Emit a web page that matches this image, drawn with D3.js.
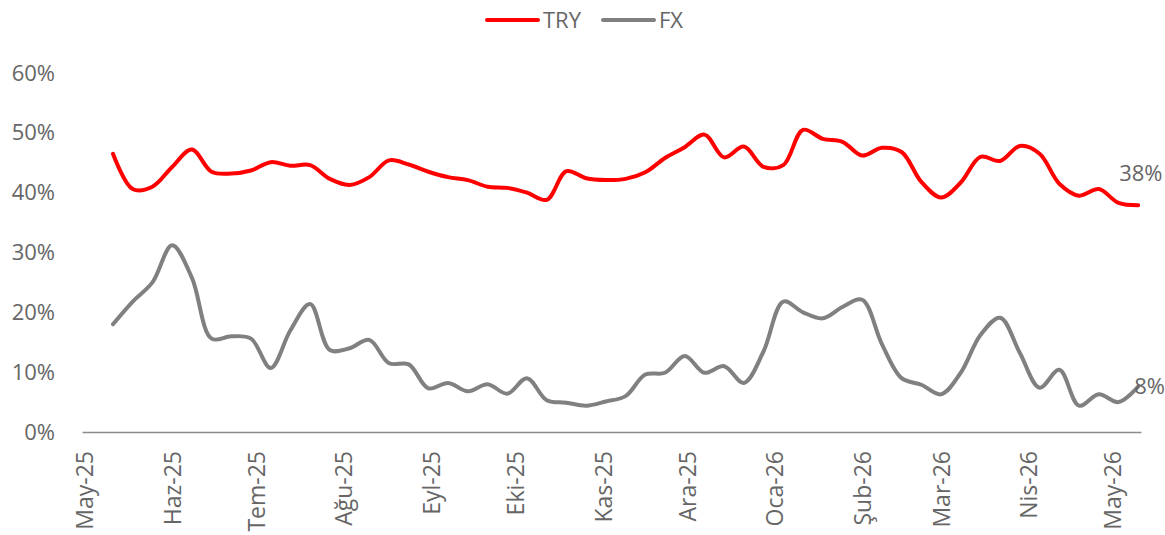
<!DOCTYPE html>
<html>
<head>
<meta charset="utf-8">
<script src="https://cdn.jsdelivr.net/npm/d3@7"></script>
<style>
  html, body { margin: 0; padding: 0; background: #fff; }
  svg { display: block; font-family: "Open Sans", sans-serif; }
</style>
</head>
<body>
<svg id="chart" width="1165" height="535"></svg>
<script>
// Weekly observations, first week starts 11 May 2025
const startDate = "2025-05-11";
const tryValues = [46.5, 40.6, 41.0, 44.3, 47.2, 43.5, 43.2, 43.7, 45.1, 44.5,
  44.6, 42.3, 41.3, 42.6, 45.4, 44.7, 43.5, 42.6, 42.1, 41.0,
  40.8, 40.0, 38.8, 43.6, 42.4, 42.1, 42.3, 43.4, 45.8, 47.6,
  49.7, 45.9, 47.7, 44.3, 44.6, 50.5, 49.0, 48.5, 46.2, 47.5,
  46.8, 41.8, 39.2, 41.7, 46.0, 45.3, 47.8, 46.5, 41.5, 39.5,
  40.6, 38.3, 37.9];
const fxValues = [18.0, 21.8, 25.0, 31.2, 25.8, 15.6, 16.0, 15.6, 10.7, 17.0,
  21.4, 13.7, 14.0, 15.4, 11.5, 11.3, 7.3, 8.2, 6.8, 8.0,
  6.4, 9.0, 5.3, 4.9, 4.4, 5.1, 6.0, 9.6, 9.9, 12.7,
  9.9, 11.0, 8.2, 13.5, 21.8, 20.0, 19.0, 20.9, 22.1, 14.7,
  9.0, 7.9, 6.3, 9.9, 16.2, 19.1, 13.2, 7.4, 10.4, 4.4,
  6.3, 5.0, 7.6];
const monthLabels = ["May-25", "Haz-25", "Tem-25", "Ağu-25", "Eyl-25", "Eki-25",
  "Kas-25", "Ara-25", "Oca-26", "Şub-26", "Mar-26", "Nis-26", "May-26"];
const yTicks = [0, 10, 20, 30, 40, 50, 60];
const seriesNames = ["TRY", "FX"];
const seriesColors = ["#FF0000", "#808080"];
const endLabels = ["38%", "8%"];

const svg = d3.select("#chart");
const textColor = "#666666";

const parse = d3.utcParse("%Y-%m-%d");
const d0 = parse(startDate);
const dates = tryValues.map((_, i) => d3.utcDay.offset(d0, 7 * i));
const monthDates = monthLabels.map((_, i) => d3.utcMonth.offset(parse("2025-05-01"), i));

const x = d3.scaleUtc()
  .domain([parse("2025-04-30"), parse("2026-05-11")])
  .range([82, 1141]);
const y = d3.scaleLinear().domain([0, 60]).range([432, 73]);

// x axis
const xAxis = svg.append("g")
  .attr("transform", `translate(0,${y(0)})`)
  .call(d3.axisBottom(x).tickValues(monthDates).tickSize(0).tickSizeOuter(0)
    .tickFormat((d, i) => monthLabels[i]));
xAxis.select(".domain").attr("stroke", "#8c8c8c").attr("stroke-width", 1.6);
xAxis.selectAll(".tick text")
  .attr("fill", textColor)
  .style("font-size", "23px")
  .style("font-family", "'Open Sans', sans-serif")
  .attr("text-anchor", "end")
  .attr("transform", "translate(0,19) rotate(-90)")
  .attr("x", 0).attr("y", 0).attr("dy", "0.35em");

// y axis
const yAxis = svg.append("g")
  .attr("transform", "translate(82,0)")
  .call(d3.axisLeft(y).tickValues(yTicks).tickSize(0).tickPadding(27)
    .tickFormat(d => d + "%"));
yAxis.select(".domain").remove();
yAxis.selectAll(".tick text")
  .attr("fill", textColor)
  .style("font-size", "22px")
  .style("font-family", "'Open Sans', sans-serif");

// lines
const line = d3.line()
  .x((d, i) => x(dates[i]))
  .y(d => y(d))
  .curve(d3.curveCatmullRom.alpha(0.5));

[fxValues, tryValues].forEach((vals, k) => {
  const idx = k === 0 ? 1 : 0;
  svg.append("path")
    .datum(vals)
    .attr("fill", "none")
    .attr("stroke", seriesColors[idx])
    .attr("stroke-width", 4)
    .attr("stroke-linejoin", "round")
    .attr("stroke-linecap", "round")
    .attr("d", line);
});

// end labels
const lastI = tryValues.length - 1;
svg.append("text")
  .attr("x", x(dates[lastI]) - 19)
  .attr("y", y(tryValues[lastI]) - 32)
  .attr("dy", "0.35em")
  .attr("fill", textColor)
  .style("font-size", "22px")
  .text(endLabels[0]);
svg.append("text")
  .attr("x", x(dates[lastI]) - 4)
  .attr("y", y(fxValues[lastI]))
  .attr("dy", "0.35em")
  .attr("fill", textColor)
  .style("font-size", "22px")
  .text(endLabels[1]);

// legend
const legend = svg.append("g");
const legendX = [487, 603];
seriesNames.forEach((name, i) => {
  legend.append("line")
    .attr("x1", legendX[i]).attr("x2", legendX[i] + 51)
    .attr("y1", 20).attr("y2", 20)
    .attr("stroke", seriesColors[i])
    .attr("stroke-width", 4)
    .attr("stroke-linecap", "round");
  legend.append("text")
    .attr("x", legendX[i] + 56)
    .attr("y", 20)
    .attr("dy", "0.35em")
    .attr("fill", textColor)
    .style("font-size", "22px")
    .text(name);
});
</script>
</body>
</html>
